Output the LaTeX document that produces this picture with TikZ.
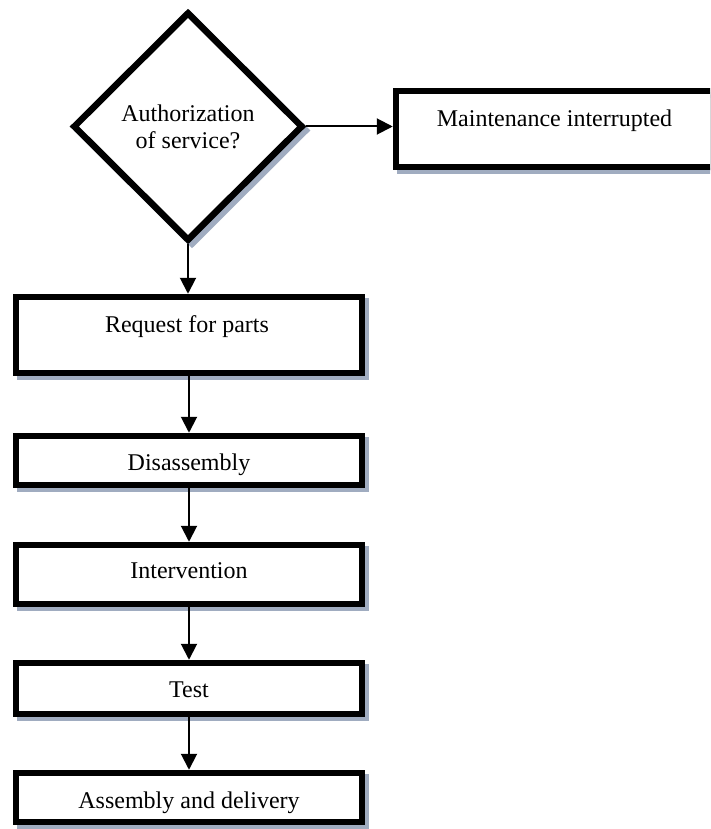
\documentclass[tikz,border=0pt]{standalone}
\usepackage{fontspec}
\setmainfont{Liberation Serif}
\usetikzlibrary{shapes.geometric,arrows.meta}
\definecolor{shadowc}{RGB}{160,172,192}
\begin{document}
\begin{tikzpicture}[x=1pt,y=-1pt,
  shadowed/.style={preaction={fill=shadowc, draw=shadowc, line width=6.5pt,
      transform canvas={shift={(4pt,-4pt)}}}},
  box/.style={shadowed, draw=black, line width=6.5pt, fill=white, rectangle,
      inner sep=0pt, minimum width=346pt},
  dia/.style={shadowed, draw=black, line width=6.5pt, fill=white, diamond,
      aspect=1, inner sep=0pt, align=center,
      font=\fontsize{24pt}{27pt}\selectfont},
  lbl/.style={anchor=base, inner sep=0pt, font=\fontsize{24pt}{27pt}\selectfont},
  arr/.style={line width=2pt, -{Triangle[width=16pt,length=16pt]}}
]
\useasboundingbox (0,0) rectangle (710,829);
\clip (0,0) rectangle (710,829);
\fill[white] (0,0) rectangle (710,829);

\node[dia, minimum width=230pt, minimum height=229pt] (dia) at (188,126.5)
  {Authorization\\of service?};

\node[box, minimum width=317pt, minimum height=76pt] (maint) at (554.5,129) {};
\node[lbl] (maintt) at (554.5,127) {Maintenance interrupted};

\node[box, minimum height=76pt] (req) at (189,335) {};
\node[lbl] (reqt) at (187,332) {Request for parts};

\node[box, minimum height=49pt] (dis) at (189,460.5) {};
\node[lbl] (dist) at (189,470) {Disassembly};

\node[box, minimum height=59pt] (int) at (189,574.5) {};
\node[lbl] (intt) at (189,578) {Intervention};

\node[box, minimum height=51pt] (test) at (189,688.5) {};
\node[lbl] (testt) at (189,697) {Test};

\node[box, minimum height=49pt] (asm) at (189,797.5) {};
\node[lbl] (asmt) at (189,808) {Assembly and delivery};

\draw[arr] (dia.east) -- (dia.east -| maint.west);
\draw[arr] (dia.south) -- (dia.south |- req.north);
\draw[arr] (req.south) -- (dis.north);
\draw[arr] (dis.south) -- (int.north);
\draw[arr] (int.south) -- (test.north);
\draw[arr] (test.south) -- (asm.north);
\end{tikzpicture}
\end{document}
